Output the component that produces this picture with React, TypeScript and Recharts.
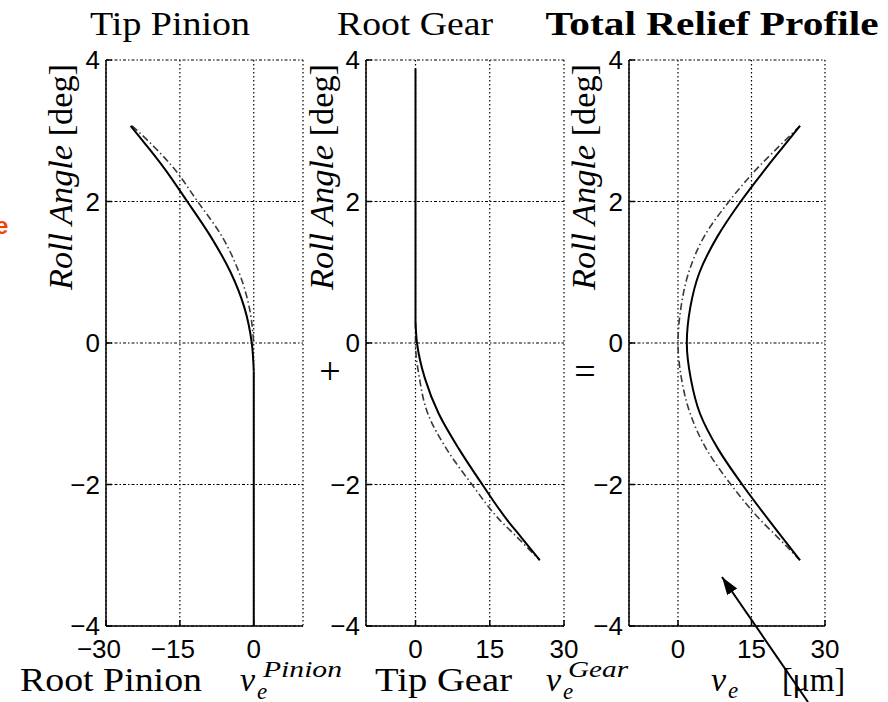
import React from "react";
import { LineChart, Line, XAxis, YAxis, CartesianGrid } from "recharts";

const SERIF = '"Liberation Serif", "Times New Roman", serif';
const SANS = '"Liberation Sans", Arial, sans-serif';

const rollTicks = [-4, -2, 0, 2, 4];
const pinionTicks = [-30, -15, 0];
const gearTicks = [0, 15, 30];
const totalTicks = [0, 15, 30];

// Tip Pinion: relief vs roll angle
const pinionRoll = [3.07, 2.75, 2.5, 2, 1.5, 1, 0.5, 0, -0.4];
const pinionActual = [-25.0, -21.3, -18.5, -13.5, -8.7, -4.7, -1.9, -0.4, 0];
const pinionTargetRoll = [3.07, 2.75, 2.5, 2, 1.5, 1, 0.5, 0];
const pinionTarget = [-24.7, -19.9, -16.6, -11.4, -6.4, -3.0, -0.9, 0];
const pinionFlatRoll = [-0.4, -4];
const pinionFlat = [0, 0];

// Root Gear
const gearFlatRoll = [3.88, 0.3];
const gearFlat = [0, 0];
const gearRoll = [0.3, 0, -0.5, -1, -1.5, -2, -2.5, -2.75, -3.07];
const gearActual = [0, 0.3, 1.9, 4.7, 8.8, 13.5, 18.5, 21.4, 25.1];
const gearTargetRoll = [0.3, 0, -0.5, -1, -1.5, -2, -2.5, -2.75, -3.07];
const gearTarget = [0, 0, 0.8, 2.5, 6.3, 11.4, 17.0, 20.6, 25.1];

// Total Relief Profile
const totalRoll = [3.07, 2.75, 2.5, 2, 1.5, 1, 0.5, 0, -0.5, -1, -1.5, -2, -2.5, -2.75, -3.07];
const totalActual = [24.9, 21.2, 18.3, 12.8, 8.0, 4.4, 2.5, 1.8, 2.6, 4.5, 8.2, 13.1, 18.5, 21.3, 24.9];
const totalTarget = [24.9, 20.2, 16.6, 10.4, 5.3, 2.2, 0.6, 0, 0.7, 2.5, 5.8, 10.8, 16.8, 20.4, 24.9];

const toPoints = (xs: number[], ys: number[]) => ys.map((y, i) => ({ x: xs[i], y }));

const fmt = (v: number) => (v < 0 ? "\u2212" + Math.abs(v) : String(v));

const YW = 60;
const PLOT_H = 566;

const YTick = (props: any) => {
  const { x, y, payload } = props;
  return (
    <g>
      <line x1={x + 6} x2={x + 12} y1={y} y2={y} stroke="#000" strokeWidth={1.5} />
      <text x={x} y={y + 9} textAnchor="end" fontSize={26} fontFamily={SANS} fill="#000">
        {fmt(payload.value)}
      </text>
    </g>
  );
};

const XTick = (props: any) => {
  const { x, y, payload } = props;
  const v = payload.value;
  const axisY = y - 4;
  return (
    <g>
      <line x1={x} x2={x} y1={axisY} y2={axisY - 6} stroke="#000" strokeWidth={1.5} />
      <text x={x} y={axisY + 32} dx={v < 0 ? -7 : 0} textAnchor="middle" fontSize={26} fontFamily={SANS} fill="#000">
        {fmt(v)}
      </text>
    </g>
  );
};

type Series = { data: { x: number; y: number }[]; dashed?: boolean; curve?: boolean };

function Panel({ left, plotWidth, domain, ticks, series }: { left: number; plotWidth: number; domain: [number, number]; ticks: number[]; series: Series[] }) {
  return (
    <div style={{ position: "absolute", left, top: 50 }}>
      <LineChart width={YW + plotWidth + 10} height={10 + PLOT_H + 40} margin={{ top: 10, right: 10, bottom: 0, left: 0 }}>
        <CartesianGrid horizontal={false} stroke="#000" strokeWidth={1.2} strokeDasharray="1.5 2.5" />
        <CartesianGrid vertical={false} stroke="#000" strokeWidth={1.2} strokeDasharray="3 2 1.5 2" />
        <XAxis
          type="number"
          dataKey="x"
          domain={domain}
          ticks={ticks}
          allowDataOverflow
          interval={0}
          height={40}
          tickSize={0}
          tickMargin={4}
          tickLine={false}
          axisLine={{ stroke: "#000", strokeWidth: 1.5 }}
          tick={(p: any) => <XTick {...p} />}
        />
        <YAxis
          type="number"
          dataKey="y"
          domain={[-4, 4]}
          ticks={rollTicks}
          allowDataOverflow
          interval={0}
          width={YW}
          tickSize={0}
          tickMargin={6}
          tickLine={false}
          axisLine={{ stroke: "#000", strokeWidth: 1.5 }}
          tick={(p: any) => <YTick {...p} />}
        />
        {series.map((s, i) => (
          <Line
            key={i}
            data={s.data}
            dataKey="y"
            type={s.curve ? "monotoneY" : "linear"}
            stroke={s.dashed ? "#3a3a3a" : "#000"}
            strokeWidth={s.dashed ? 1.6 : 2}
            strokeDasharray={s.dashed ? "7 3 1.5 3" : undefined}
            dot={false}
            activeDot={false}
            isAnimationActive={false}
          />
        ))}
      </LineChart>
    </div>
  );
}

function YLabel({ x }: { x: number }) {
  return (
    <text
      x={x}
      y={177}
      transform={`rotate(-90 ${x} 177)`}
      textAnchor="middle"
      fontFamily={SERIF}
      fontSize={33}
      fill="#000"
      textLength={226}
      lengthAdjust="spacingAndGlyphs"
    >
      <tspan fontStyle="italic">Roll Angle</tspan>
      <tspan> [deg]</tspan>
    </text>
  );
}

export default function App() {
  return (
    <div style={{ position: "absolute", left: 0, top: 0, width: 888, height: 702, overflow: "hidden", background: "#fff" }}>
      <style>{"svg.recharts-surface{overflow:visible}"}</style>
      <Panel
        left={46}
        plotWidth={197}
        domain={[-30, 10]}
        ticks={pinionTicks}
        series={[
          { data: toPoints(pinionTarget, pinionTargetRoll), dashed: true, curve: true },
          { data: toPoints(pinionActual, pinionRoll), curve: true },
          { data: toPoints(pinionFlat, pinionFlatRoll) },
        ]}
      />
      <Panel
        left={306}
        plotWidth={198}
        domain={[-10, 30]}
        ticks={gearTicks}
        series={[
          { data: toPoints(gearTarget, gearTargetRoll), dashed: true, curve: true },
          { data: toPoints(gearFlat, gearFlatRoll) },
          { data: toPoints(gearActual, gearRoll), curve: true },
        ]}
      />
      <Panel
        left={569}
        plotWidth={196}
        domain={[-10, 30]}
        ticks={totalTicks}
        series={[
          { data: toPoints(totalTarget, totalRoll), dashed: true, curve: true },
          { data: toPoints(totalActual, totalRoll), curve: true },
        ]}
      />
      <svg width={888} height={702} style={{ position: "absolute", left: 0, top: 0, pointerEvents: "none" }}>
        <defs>
          <marker id="arrowHead" markerUnits="userSpaceOnUse" markerWidth={20} markerHeight={14} refX={18} refY={6} orient="auto">
            <path d="M0,0 L18,6 L0,12 z" fill="#000" />
          </marker>
        </defs>
        <text x={-5} y={234} fill="#ff3c00" fontFamily={SANS} fontSize={24} fontWeight="bold">e</text>

        <text x={170} y={35} textAnchor="middle" fontFamily={SERIF} fontSize={34} textLength={160} lengthAdjust="spacingAndGlyphs">Tip Pinion</text>
        <text x={415} y={35} textAnchor="middle" fontFamily={SERIF} fontSize={34} textLength={156} lengthAdjust="spacingAndGlyphs">Root Gear</text>
        <text x={712} y={35} textAnchor="middle" fontFamily={SERIF} fontSize={34} fontWeight="bold" textLength={333} lengthAdjust="spacingAndGlyphs">Total Relief Profile</text>

        <YLabel x={72} />
        <YLabel x={333} />
        <YLabel x={595} />

        <text x={330} y={384} textAnchor="middle" fontFamily={SERIF} fontSize={38}>+</text>
        <text x={585} y={384} textAnchor="middle" fontFamily={SERIF} fontSize={38}>=</text>

        <text x={20} y={691} fontFamily={SERIF} fontSize={34} textLength={182} lengthAdjust="spacingAndGlyphs">Root Pinion</text>
        <text x={240} y={691} fontFamily={SERIF} fontSize={34} fontStyle="italic">v</text>
        <text x={257} y={699} fontFamily={SERIF} fontSize={23} fontStyle="italic">e</text>
        <text x={263} y={677} fontFamily={SERIF} fontSize={23} fontStyle="italic" textLength={79} lengthAdjust="spacingAndGlyphs">Pinion</text>

        <text x={375} y={691} fontFamily={SERIF} fontSize={34} textLength={137} lengthAdjust="spacingAndGlyphs">Tip Gear</text>
        <text x={546} y={691} fontFamily={SERIF} fontSize={34} fontStyle="italic">v</text>
        <text x={563} y={699} fontFamily={SERIF} fontSize={23} fontStyle="italic">e</text>
        <text x={568} y={677} fontFamily={SERIF} fontSize={23} fontStyle="italic" textLength={60} lengthAdjust="spacingAndGlyphs">Gear</text>

        <text x={711} y={691} fontFamily={SERIF} fontSize={34} fontStyle="italic">v</text>
        <text x={728} y={698} fontFamily={SERIF} fontSize={23} fontStyle="italic">e</text>
        <text x={782} y={691} fontFamily={SERIF} fontSize={34} textLength={63} lengthAdjust="spacingAndGlyphs">[μm]</text>

        <line x1={808} y1={702} x2={722} y2={577} stroke="#000" strokeWidth={2} markerEnd="url(#arrowHead)" />
      </svg>
    </div>
  );
}
